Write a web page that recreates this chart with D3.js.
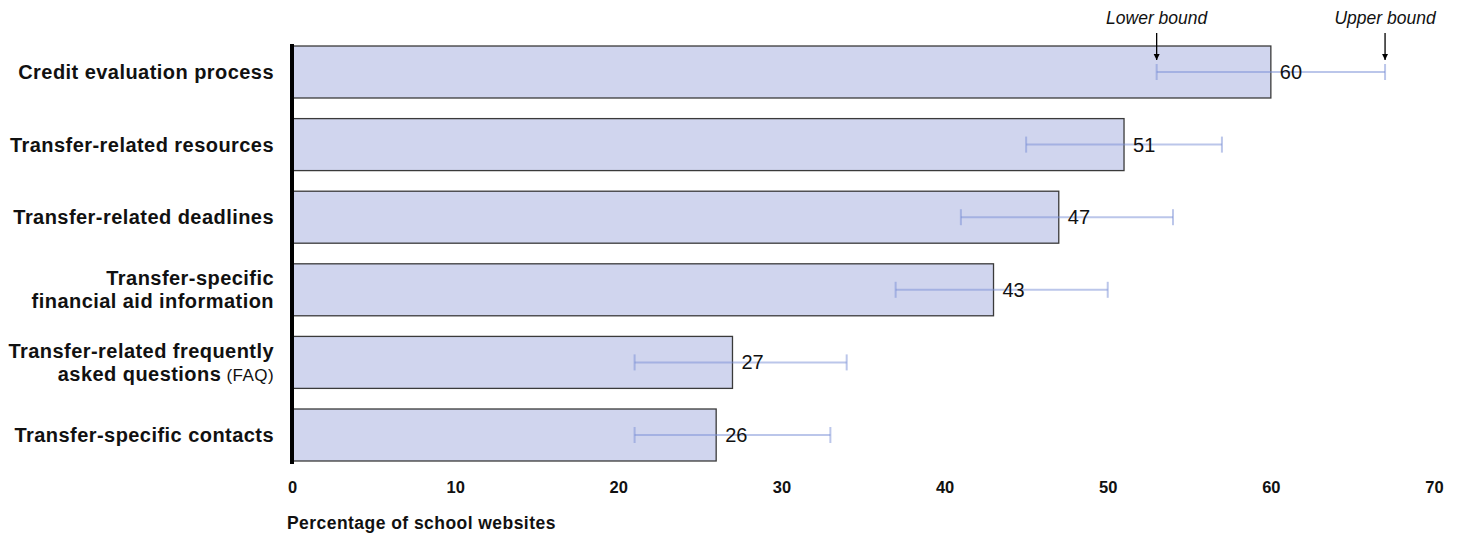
<!DOCTYPE html>
<html><head><meta charset="utf-8">
<script src="https://cdn.jsdelivr.net/npm/d3@7"></script>
<style>body{margin:0;background:#fff}svg{display:block;font-family:"Liberation Sans",Arial,sans-serif}</style>
</head><body><svg id="c" width="1460" height="536"></svg>
<script>
const categories = ["Credit evaluation process","Transfer-related resources","Transfer-related deadlines","Transfer-specific financial aid information","Transfer-related frequently asked questions (FAQ)","Transfer-specific contacts"];
const labelLines = [
  [["Credit evaluation process"]],
  [["Transfer-related resources"]],
  [["Transfer-related deadlines"]],
  [["Transfer-specific"],["financial aid information"]],
  [["Transfer-related frequently"],["asked questions"," (FAQ)"]],
  [["Transfer-specific contacts"]]
];
const values = [60,51,47,43,27,26];
const lower = [53,45,41,37,21,21];
const upper = [67,57,54,50,34,33];
const xTicks = [0,10,20,30,40,50,60,70];
const xTitle = "Percentage of school websites";

const svg = d3.select("#c");
const x = d3.scaleLinear().domain([0,70]).range([292,1434]);
const y = d3.scaleBand().domain(categories).range([35.7,471.3]).paddingInner(0.284).paddingOuter(0.142);
const bw = y.bandwidth();

// bars
svg.append("g").selectAll("rect").data(categories).join("rect")
  .attr("x", x(0)).attr("y", d=>y(d))
  .attr("width", (d,i)=>x(values[i])-x(0)).attr("height", bw)
  .attr("fill","#d0d5ee").attr("stroke","#3a3a3a").attr("stroke-width",1.3);

// error bars
const eb = svg.append("g").attr("stroke","rgb(120,142,214)").attr("stroke-opacity",0.5).attr("stroke-width",2);
categories.forEach((c,i)=>{
  const cy = y(c)+bw/2;
  eb.append("line").attr("x1",x(lower[i])).attr("x2",x(upper[i])).attr("y1",cy).attr("y2",cy);
  eb.append("line").attr("x1",x(lower[i])).attr("x2",x(lower[i])).attr("y1",cy-8).attr("y2",cy+8);
  eb.append("line").attr("x1",x(upper[i])).attr("x2",x(upper[i])).attr("y1",cy-8).attr("y2",cy+8);
});

// value labels
svg.append("g").selectAll("text").data(categories).join("text")
  .attr("x",(d,i)=>x(values[i])+9).attr("y",d=>y(d)+bw/2+7)
  .attr("font-size",20).attr("fill","#111").text((d,i)=>values[i]);

// y axis line
svg.append("line").attr("x1",x(0)).attr("x2",x(0)).attr("y1",44).attr("y2",464)
  .attr("stroke","#000").attr("stroke-width",4);

// category labels
const lg = svg.append("g").attr("text-anchor","end").attr("font-size",20).attr("font-weight","bold").attr("fill","#111").attr("letter-spacing",0.45);
categories.forEach((c,i)=>{
  const lines = labelLines[i];
  const cy = y(c)+bw/2;
  const lh = 23;
  lines.forEach((ln,j)=>{
    const t = lg.append("text").attr("x",274).attr("y",cy + 7 + (j-(lines.length-1)/2)*lh);
    t.append("tspan").text(ln[0]);
    if (ln[1]) t.append("tspan").attr("font-weight","normal").attr("font-size",17).text(ln[1]);
  });
});

// x axis
const xa = svg.append("g").attr("transform","translate(0,471)")
  .call(d3.axisBottom(x).tickValues(xTicks).tickSize(0).tickPadding(10).tickFormat(d3.format("d")));
xa.select(".domain").remove();
xa.selectAll("text").attr("font-size",16.5).attr("font-weight","bold").attr("fill","#111")
  .attr("font-family","'Liberation Sans',Arial,sans-serif");

svg.append("text").attr("x",287).attr("y",529).attr("font-size",17.5).attr("font-weight","bold").attr("fill","#111").attr("letter-spacing",0.45).text(xTitle);

// annotations
svg.append("defs").append("marker").attr("id","ah").attr("viewBox","0 0 10 10").attr("refX",10).attr("refY",5)
  .attr("markerWidth",5).attr("markerHeight",5).attr("orient","auto")
  .append("path").attr("d","M0,0L10,5L0,10z").attr("fill","#000");
[[lower[0],"Lower bound"],[upper[0],"Upper bound"]].forEach(([v,t])=>{
  svg.append("text").attr("x",x(v)).attr("y",24).attr("text-anchor","middle").attr("font-size",17.5).attr("font-style","italic").attr("fill","#111").text(t);
  svg.append("line").attr("x1",x(v)).attr("x2",x(v)).attr("y1",33).attr("y2",60).attr("stroke","#000").attr("stroke-width",1.3).attr("marker-end","url(#ah)");
});
</script></body></html>
